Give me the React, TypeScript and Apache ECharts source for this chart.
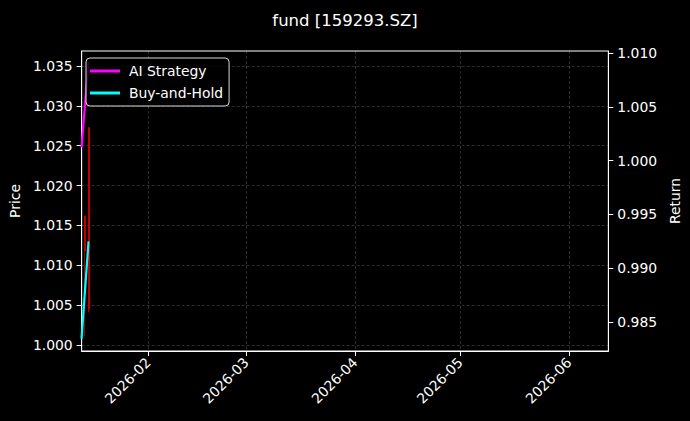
import React, { useEffect, useRef } from 'react';
import * as echarts from 'echarts';

// data
const lineDates = ['2026-01-13', '2026-01-15'];
const aiStrategy = [1.0248, 1.0355];
const buyAndHold = [1.0008, 1.0130];

const candleDates = ['2026-01-14', '2026-01-15'];
// [open, close, low, high]
const candles = [
  [1.0162, 1.0118, 1.0011, 1.0162],
  [1.0273, 1.0045, 1.0041, 1.0273],
];

const monthTicks = ['2026-02-01', '2026-03-01', '2026-04-01', '2026-05-01', '2026-06-01'];
const priceTicks = [1.0, 1.005, 1.01, 1.015, 1.02, 1.025, 1.03, 1.035];
const returnTicks = [0.985, 0.99, 0.995, 1.0, 1.005, 1.01];

const toTime = (s: string) => {
  const [y, m, d] = s.split('-').map(Number);
  return new Date(y, m - 1, d).getTime();
};

const FONT = '"DejaVu Sans", sans-serif';
const GRID_LINE = { show: true, lineStyle: { color: 'rgba(255,255,255,0.22)', type: [3, 2], width: 0.8 } };

const App: React.FC = () => {
  const chartRef = useRef<HTMLDivElement>(null);

  useEffect(() => {
    if (!chartRef.current) return;
    const chart = echarts.init(chartRef.current, null, { renderer: 'svg' });
    const monthTimes = monthTicks.map(toTime);

    const option = {
      animation: false,
      backgroundColor: '#000',
      textStyle: { fontFamily: FONT },
      title: {
        text: 'fund [159293.SZ]',
        left: 'center',
        top: 7,
        textStyle: { color: '#fff', fontSize: 16.5, fontWeight: 'normal', fontFamily: FONT },
      },
      legend: {
        orient: 'vertical',
        left: 86,
        top: 58,
        padding: [6, 6, 6, 4],
        itemGap: 8,
        itemWidth: 30,
        itemHeight: 3,
        itemStyle: { borderWidth: 0 },
        icon: 'rect',
        backgroundColor: 'rgba(0,0,0,0.8)',
        borderColor: '#d8d8d8',
        borderWidth: 1,
        borderRadius: 4,
        textStyle: { color: '#fff', fontSize: 13.9, fontFamily: FONT, padding: [0, 0, 0, 4] },
        data: ['AI Strategy', 'Buy-and-Hold'],
      },
      grid: {
        left: 79.6,
        right: 77.4,
        top: 51,
        bottom: 70,
        show: true,
        borderColor: '#fff',
        borderWidth: 1,
      },
      xAxis: {
        type: 'value',
        min: new Date(2026, 0, 13, 1).getTime(),
        max: new Date(2026, 5, 12, 6).getTime(),
        axisLine: { show: true, onZero: false, lineStyle: { color: '#fff', width: 1 } },
        axisTick: {
          show: true,
          length: 5,
          lineStyle: { color: '#fff' },
          customValues: monthTimes,
        },
        axisLabel: {
          color: '#fff',
          fontSize: 13.9,
          fontFamily: FONT,
          rotate: 45,
          margin: 9,
          customValues: monthTimes,
          formatter: (v: number) => {
            const d = new Date(v);
            return `${d.getFullYear()}-${String(d.getMonth() + 1).padStart(2, '0')}`;
          },
        },
        splitLine: GRID_LINE,
      },
      yAxis: [
        {
          type: 'value',
          position: 'left',
          min: 0.99925,
          max: 1.03688,
          name: 'Price',
          nameLocation: 'middle',
          nameRotate: 90,
          nameGap: 58,
          nameTextStyle: { color: '#fff', fontSize: 13.9, fontFamily: FONT },
          axisLine: { show: true, lineStyle: { color: '#fff', width: 1 } },
          axisTick: { show: true, length: 5, lineStyle: { color: '#fff' }, customValues: priceTicks },
          axisLabel: {
            color: '#fff',
            fontSize: 13.9,
            fontFamily: FONT,
            margin: 9,
            customValues: priceTicks,
            formatter: (v: number) => v.toFixed(3),
          },
          splitLine: GRID_LINE,
        },
        {
          type: 'value',
          position: 'right',
          min: 0.9823,
          max: 1.0102,
          name: 'Return',
          nameLocation: 'middle',
          nameRotate: 90,
          nameGap: 56,
          nameTextStyle: { color: '#fff', fontSize: 13.9, fontFamily: FONT },
          axisLine: { show: true, lineStyle: { color: '#fff', width: 1 } },
          axisTick: { show: true, length: 5, lineStyle: { color: '#fff' }, customValues: returnTicks },
          axisLabel: {
            color: '#fff',
            fontSize: 13.9,
            fontFamily: FONT,
            margin: 9,
            customValues: returnTicks,
            formatter: (v: number) => v.toFixed(3),
          },
          splitLine: { show: false },
        },
      ],
      series: [
        {
          name: 'Price',
          type: 'candlestick',
          yAxisIndex: 0,
          barWidth: 1.5,
          data: candleDates.map((d, i) => [toTime(d), ...candles[i]]),
          itemStyle: {
            color: '#e00000',
            color0: '#e00000',
            borderColor: '#e00000',
            borderColor0: '#e00000',
            borderWidth: 0.7,
          },
        },
        {
          name: 'AI Strategy',
          type: 'line',
          yAxisIndex: 0,
          showSymbol: false,
          color: '#ff00ff',
          lineStyle: { color: '#ff00ff', width: 2.2 },
          data: lineDates.map((d, i) => [toTime(d), aiStrategy[i]]),
        },
        {
          name: 'Buy-and-Hold',
          type: 'line',
          yAxisIndex: 0,
          showSymbol: false,
          color: '#00ffff',
          lineStyle: { color: '#00ffff', width: 2.2 },
          data: lineDates.map((d, i) => [toTime(d), buyAndHold[i]]),
        },
      ],
    };

    chart.setOption(option);
    return () => {
      chart.dispose();
    };
  }, []);

  return (
    <div
      ref={chartRef}
      style={{ position: 'absolute', left: 0, top: 0, width: '690px', height: '421px' }}
    />
  );
};

export default App;
